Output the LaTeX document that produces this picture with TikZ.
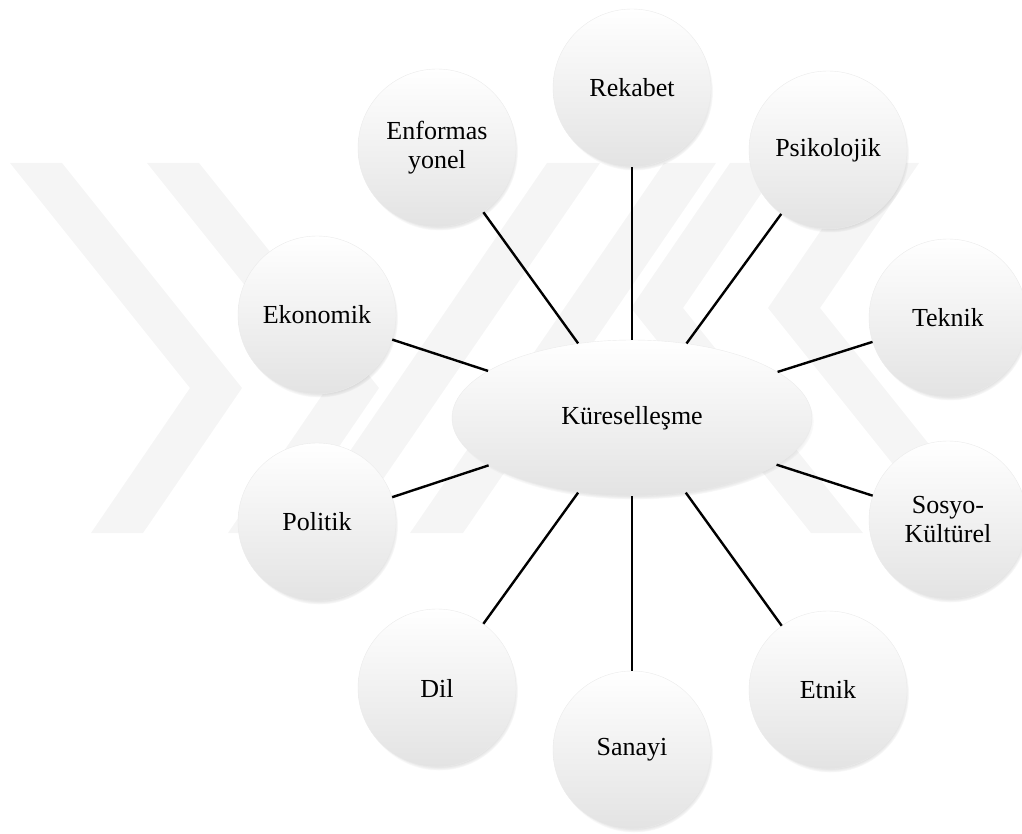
\documentclass[tikz,border=0pt]{standalone}
\usepackage{fontspec}
\setmainfont{Liberation Serif}
\usetikzlibrary{shapes.geometric,shadows}
\tikzset{
  wm/.style={fill=black!4, draw=none},
  bubble/.style={circle, minimum size=158pt, inner sep=0pt, align=center,
    draw=black!8, line width=0.4pt,
    top color=white, middle color=white, bottom color=black!11,
    circular drop shadow={shadow xshift=2pt, shadow yshift=-3.5pt, shadow scale=1.0, opacity=0.6},
    font=\fontsize{26}{29}\selectfont},
  hub/.style={ellipse, minimum width=360pt, minimum height=156pt, inner sep=0pt,
    draw=black!8, line width=0.4pt,
    top color=white, middle color=white, bottom color=black!11,
    circular drop shadow={shadow xshift=2pt, shadow yshift=-3.5pt, shadow scale=1.0, opacity=0.6},
    font=\fontsize{26}{29}\selectfont},
  spoke/.style={line width=2.4pt, black}
}
\begin{document}
\begin{tikzpicture}[x=1pt,y=-1pt]
\useasboundingbox (0,0) rectangle (1022,834);
% watermark
\fill[wm] (10,163) -- (62,163) -- (242,388) -- (143,533) -- (91,533) -- (190,388) -- cycle;
\fill[wm] (147,163) -- (199,163) -- (379,388) -- (280,533) -- (228,533) -- (327,388) -- cycle;
\fill[wm] (294,533) -- (346,533) -- (600,163) -- (547,163) -- cycle;
\fill[wm] (1000,533) -- (948,533) -- (768,308) -- (867,163) -- (919,163) -- (820,308) -- cycle;
\fill[wm] (863,533) -- (811,533) -- (631,308) -- (730,163) -- (782,163) -- (683,308) -- cycle;
\fill[wm] (716,163) -- (664,163) -- (410,533) -- (463,533) -- cycle;
% nodes
\node[hub] (k) at (632,418) {Küreselleşme};
\node[bubble] (rek) at (632,88) {Rekabet};
\node[bubble] (enf) at (437,148) {Enformas\\yonel};
\node[bubble] (psi) at (828,150) {Psikolojik};
\node[bubble] (eko) at (317,315) {Ekonomik};
\node[bubble] (tek) at (948,318) {Teknik};
\node[bubble] (pol) at (317,522) {Politik};
\node[bubble] (sos) at (948,520) {Sosyo-\\Kültürel};
\node[bubble] (dil) at (437,688) {Dil};
\node[bubble] (san) at (632,750) {Sanayi};
\node[bubble] (etn) at (828,690) {Etnik};
% spokes
\foreach \n in {rek,enf,psi,eko,tek,pol,sos,dil,san,etn}
  \draw[spoke] (k) -- (\n);
\end{tikzpicture}
\end{document}
